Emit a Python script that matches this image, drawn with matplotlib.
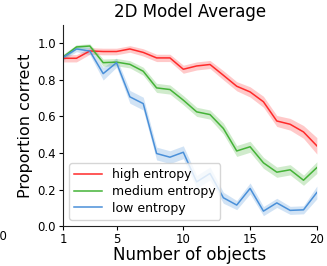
import matplotlib
matplotlib.use("Agg")
import matplotlib.pyplot as plt
import numpy as np

# ── data ────────────────────────────────────────────────────────────────────
n_objects = list(range(1, 21))

high_mean = [0.918, 0.918, 0.958, 0.955, 0.955, 0.969, 0.950, 0.920, 0.920, 0.858,
             0.876, 0.884, 0.825, 0.765, 0.734, 0.680, 0.575, 0.557, 0.515, 0.439]
high_err = [0.020, 0.020, 0.018, 0.018, 0.018, 0.018, 0.020, 0.020, 0.020, 0.022,
            0.022, 0.022, 0.025, 0.025, 0.028, 0.030, 0.030, 0.032, 0.035, 0.045]

med_mean = [0.925, 0.980, 0.985, 0.894, 0.897, 0.885, 0.847, 0.756, 0.747, 0.689,
            0.625, 0.610, 0.534, 0.411, 0.434, 0.346, 0.295, 0.308, 0.251, 0.320]
med_err = [0.015, 0.012, 0.012, 0.020, 0.020, 0.020, 0.022, 0.025, 0.025, 0.025,
           0.025, 0.025, 0.030, 0.030, 0.030, 0.030, 0.028, 0.028, 0.028, 0.032]

low_mean = [0.922, 0.969, 0.958, 0.834, 0.894, 0.707, 0.670, 0.397, 0.377, 0.404,
            0.242, 0.288, 0.155, 0.115, 0.206, 0.082, 0.127, 0.086, 0.089, 0.184]
low_err = [0.015, 0.015, 0.020, 0.035, 0.025, 0.035, 0.035, 0.035, 0.035, 0.035,
           0.035, 0.035, 0.030, 0.025, 0.030, 0.025, 0.025, 0.022, 0.022, 0.035]

labels = ["high entropy", "medium entropy", "low entropy"]
colors = ["#ff2a2a", "#44b337", "#4a90d9"]

# ── figure ──────────────────────────────────────────────────────────────────
fig = plt.figure(figsize=(3.27, 2.66), dpi=100)
ax = fig.add_axes([0.193, 0.150, 0.776, 0.756])

x = np.array(n_objects)
for mean, err, lab, col in zip([high_mean, med_mean, low_mean],
                               [high_err, med_err, low_err], labels, colors):
    m = np.array(mean)
    e = np.array(err)
    ax.fill_between(x, m - e, m + e, color=col, alpha=0.25, lw=0)
    ax.plot(x, m, color=col, lw=1.1, label=lab)

ax.set_xlim(1, 20)
ax.set_ylim(0, 1.1)
ax.set_xticks([1, 5, 10, 15, 20])
ax.set_yticks([0.0, 0.2, 0.4, 0.6, 0.8, 1.0])
ax.tick_params(labelsize=8.5, length=3, width=0.8, pad=2)
ax.spines["top"].set_visible(False)
ax.spines["right"].set_visible(False)
for s in ("left", "bottom"):
    ax.spines[s].set_color("#222222")
    ax.spines[s].set_linewidth(0.8)

ax.set_title("2D Model Average", fontsize=12, pad=6)
ax.set_xlabel("Number of objects", fontsize=12, labelpad=0)
ax.set_ylabel("Proportion correct", fontsize=11.5, labelpad=3)

ax.legend(loc="lower left", fontsize=9, framealpha=0.8, handlelength=2.2,
          borderpad=0.4, labelspacing=0.3, fancybox=True)

# stray tick label from the neighbouring panel
fig.text(7 / 327, 1 - 237 / 266, "20", ha="right", va="center", fontsize=8.5)

fig.savefig("out.png", dpi=100)
